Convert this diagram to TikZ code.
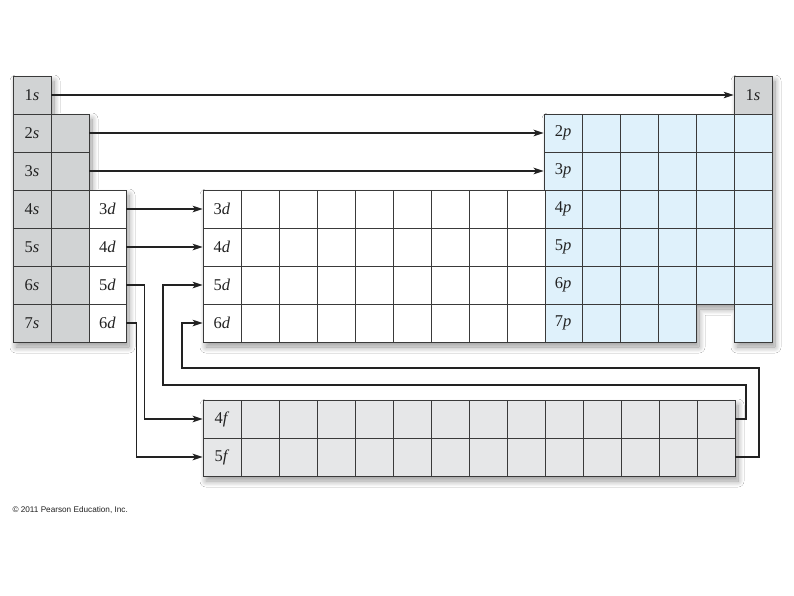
\documentclass[tikz,border=0pt]{standalone}
\usepackage{fontspec}
\setmainfont{Liberation Serif}
\setsansfont{Liberation Sans}
\usetikzlibrary{arrows.meta,shadows.blur}
\definecolor{sgray}{HTML}{D1D3D4}
\definecolor{pblue}{HTML}{DFF1FB}
\definecolor{fgray}{HTML}{E6E7E8}
\definecolor{linec}{HTML}{3A3A3A}
\definecolor{inkc}{HTML}{222222}
\begin{document}
\begin{tikzpicture}[x=1pt,y=-1pt,
  cellbox/.style={draw=linec, line width=0.75pt, minimum width=38pt, minimum height=38pt,
    inner sep=0pt, font=\fontsize{16.5}{16.5}\selectfont, text=inkc},
  narrowbox/.style={cellbox, minimum width=37pt},
  shade/.style={fill=white, blur shadow={shadow xshift=3pt, shadow yshift=-5pt,
    shadow blur radius=6pt, shadow blur steps=14, shadow opacity=40}},
  tip/.style={-{Stealth[length=10pt,width=6.5pt,inset=2.5pt]}},
  thinarr/.style={tip, draw=inkc, line width=1.1pt},
  thickarr/.style={tip, draw=inkc, line width=1.9pt},
  midarr/.style={tip, draw=inkc, line width=1.3pt},
  patharr/.style={tip, draw=inkc, line width=1.6pt},
  retarr/.style={tip, draw=inkc, line width=1.4pt},
  credit/.style={anchor=west, font=\sffamily\fontsize{8.2}{9}\selectfont, text=inkc}
]
\useasboundingbox[fill=white] (0,0) rectangle (794,595);

% shadows of the blocks
\path[shade] (13,76) -- (51,76) -- (51,114) -- (89,114) -- (89,190) -- (126,190)
  -- (126,342) -- (13,342) -- cycle;
\path[shade] (203,190) -- (545,190) -- (545,114) -- (734,114) -- (734,76) -- (772,76)
  -- (772,342) -- (734,342) -- (734,304) -- (696,304) -- (696,342) -- (203,342) -- cycle;
\path[shade] (203,400) rectangle (735,476);

% s block, column A
\foreach \r in {1,...,7}
  \node[cellbox, fill=sgray] (sA\r) at (32,{95+38*(\r-1)}) {\r\textit{s}};
% s block, column B
\foreach \r in {2,...,7}
  \node[cellbox, fill=sgray] (sB\r) at (70,{95+38*(\r-1)}) {};
% left d column
\foreach \r/\n in {4/3,5/4,6/5,7/6}
  \node[narrowbox, fill=white] (dL\r) at (107.5,{95+38*(\r-1)}) {\n\textit{d}};
% right 1s
\node[cellbox, fill=sgray] (s1r) at (753,95) {1\textit{s}};

% p block
\foreach \r in {2,...,7}{
  \node[cellbox, fill=pblue] (p\r1) at (563,{95+38*(\r-1)}) {\r\textit{p}};
  \foreach \c in {2,...,6}{
    \ifnum\r=7 \ifnum\c=5 \else
      \node[cellbox, fill=pblue] (p\r\c) at ({563+38*(\c-1)},{95+38*(\r-1)}) {};
    \fi\else
      \node[cellbox, fill=pblue] (p\r\c) at ({563+38*(\c-1)},{95+38*(\r-1)}) {};
    \fi
  }
}

% d block
\foreach \r/\n in {4/3,5/4,6/5,7/6}{
  \node[cellbox, fill=white] (d\r0) at (222,{95+38*(\r-1)}) {\n\textit{d}};
  \foreach \c in {1,...,8}
    \node[cellbox, fill=white] (d\r\c) at ({222+38*\c},{95+38*(\r-1)}) {};
}

% f block
\foreach \r/\y in {4/419,5/457}{
  \node[cellbox, fill=fgray] (f\r0) at (222,\y) {\r\textit{f}};
  \foreach \c in {1,...,13}
    \node[cellbox, fill=fgray] (f\r-\c) at ({222+38*\c},\y) {};
}

% connectors
\draw[thinarr] (sA1.east) -- (s1r.west);
\draw[thickarr] (sB2.east) -- (p21.west);
\draw[thickarr] (sB3.east) -- (p31.west);
\draw[midarr] (dL4.east) -- (d40.west);
\draw[midarr] (dL5.east) -- (d50.west);
\draw[patharr] (dL6.east) -- ++(18,0) |- (f40.west);
\draw[patharr] (dL7.east) -- ++(10,0) |- (f50.west);
\draw[retarr] (f4-13.east) -| (746,385) -| (163,285) -- (d60.west);
\draw[retarr] (f5-13.east) -| (759,368) -| (182,323) -- (d70.west);

% credit line
\node[credit] (credit) at (9,510) {© 2011 Pearson Education, Inc.};
\end{tikzpicture}
\end{document}
